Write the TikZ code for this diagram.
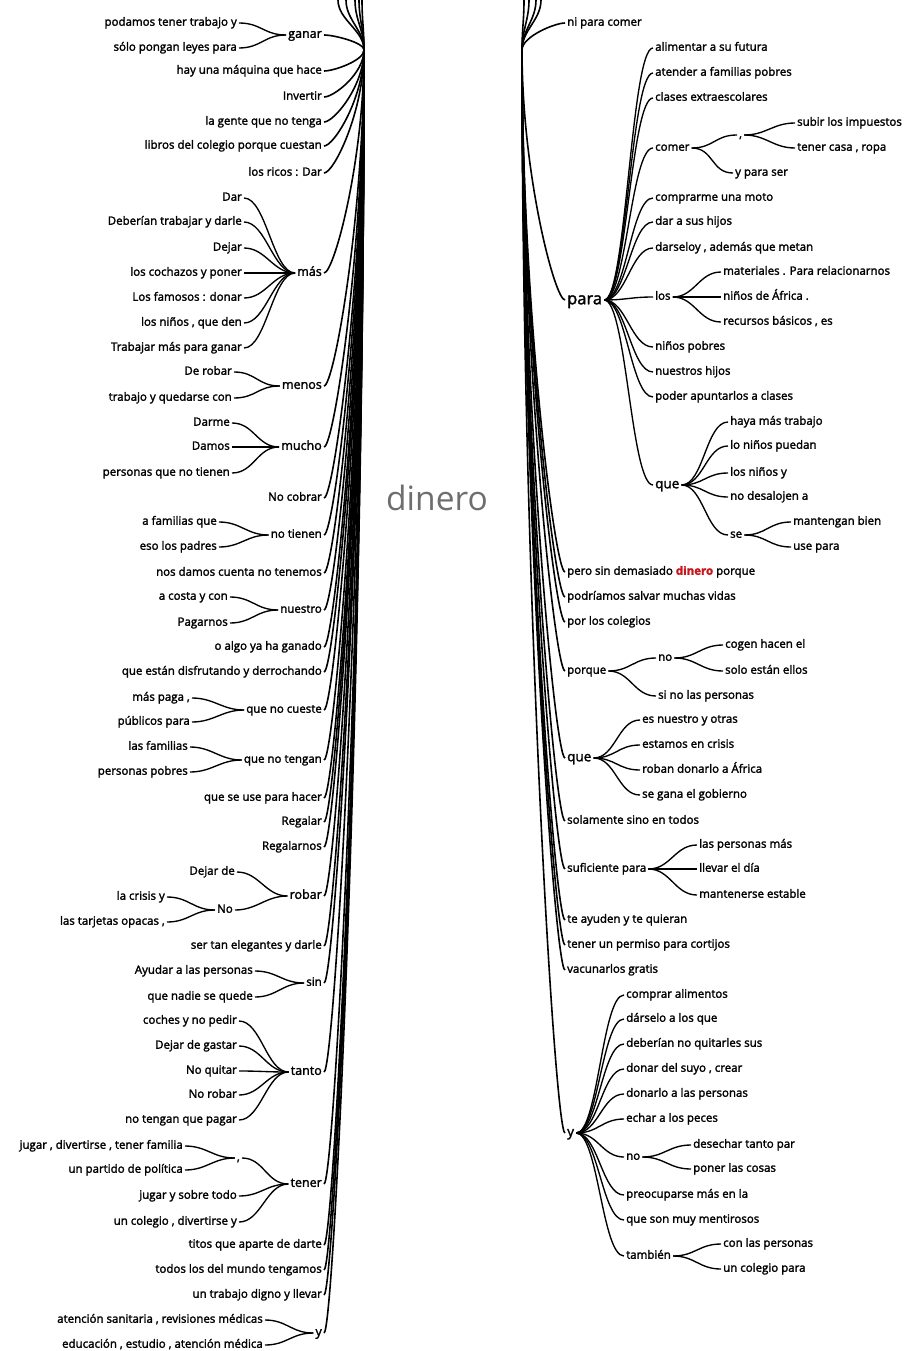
\documentclass[tikz,border=0pt]{standalone}
\usepackage{fontspec}
\setmainfont{Open Sans}
\newfontfamily\wordfont{Open Sans}[FakeBold=2]
\usetikzlibrary{calc}
\definecolor{rootgray}{HTML}{6E6E6E}
\definecolor{hitred}{HTML}{C8161D}
\tikzset{
  word/.style     = {font=\wordfont\fontsize{11.5}{13}\selectfont, inner xsep=2pt, inner ysep=0pt,
                     text height=8pt, text depth=2.5pt},
  midword/.style  = {font=\wordfont\fontsize{12.5}{14}\selectfont, text height=8.5pt, text depth=2.8pt},
  bigword/.style  = {font=\wordfont\fontsize{13.5}{15}\selectfont, text height=9.5pt, text depth=3pt},
  hugeword/.style = {font=\wordfont\fontsize{16.5}{18}\selectfont, text height=12pt, text depth=3.5pt},
  lw/.style       = {word, anchor=east},
  rw/.style       = {word, anchor=west},
  link/.style     = {line width=1.35pt, black},
  trunk/.style    = {line width=1.6pt, black},
  rootword/.style = {font=\fontsize{33.5}{36}\selectfont, text=rootgray, inner sep=0pt}
}
% trunk links from the hubs, fan links inside a branch
\newcommand{\ltrunk}[1]{\draw[trunk] (hubL) .. controls ($(hubL)!0.5!(hubL |- #1.east)$) and +(10,0) .. (#1.east);}
\newcommand{\rtrunk}[1]{\draw[trunk] (hubR) .. controls ($(hubR)!0.5!(hubR |- #1.west)$) and +(-10,0) .. (#1.west);}
\newcommand{\lfan}[2]{\draw[link] (#1.west) .. controls +(-22,0) and +(22,0) .. (#2.east);}
\newcommand{\rfan}[2]{\draw[link] (#1.east) .. controls +(22,0) and +(-22,0) .. (#2.west);}

\begin{document}
\begin{tikzpicture}[x=1pt,y=-1pt]
  \useasboundingbox (0,0) rectangle (905,1351);

  \coordinate (hubL) at (364,50);
  \coordinate (hubR) at (522,50);

  \node[rootword] (root) at (437,498) {dinero};

  % left side
  \node[lw,midword] (ganar)        at (324,35)   {ganar};
  \node[lw] (maquina)              at (324,71)   {hay una máquina que hace};
  \node[lw] (invertir)             at (324,97)   {Invertir};
  \node[lw] (gente)                at (324,122)  {la gente que no tenga};
  \node[lw] (libros)               at (324,146)  {libros del colegio porque cuestan};
  \node[lw] (ricos)                at (324,173)  {los ricos : Dar};
  \node[lw,midword] (mas)          at (324,273)  {más};
  \node[lw,midword] (menos)        at (324,386)  {menos};
  \node[lw,midword] (mucho)        at (324,447)  {mucho};
  \node[lw] (nocobrar)             at (324,498)  {No cobrar};
  \node[lw] (notienen)             at (324,535)  {no tienen};
  \node[lw] (damos)                at (324,573)  {nos damos cuenta no tenemos};
  \node[lw] (nuestro)              at (324,610)  {nuestro};
  \node[lw] (algo)                 at (324,647)  {o algo ya ha ganado};
  \node[lw] (disfrutando)          at (324,672)  {que están disfrutando y derrochando};
  \node[lw] (nocueste)             at (324,710)  {que no cueste};
  \node[lw] (notengan)             at (324,760)  {que no tengan};
  \node[lw] (seuse)                at (324,798)  {que se use para hacer};
  \node[lw] (regalar)              at (324,822)  {Regalar};
  \node[lw] (regalarnos)           at (324,847)  {Regalarnos};
  \node[lw,midword] (robar)        at (324,896)  {robar};
  \node[lw] (elegantes)            at (324,946)  {ser tan elegantes y darle};
  \node[lw] (sin)                  at (324,983)  {sin};
  \node[lw,midword] (tanto)        at (324,1072) {tanto};
  \node[lw,midword] (tener)        at (324,1184) {tener};
  \node[lw] (titos)                at (324,1245) {titos que aparte de darte};
  \node[lw] (todos)                at (324,1270) {todos los del mundo tengamos};
  \node[lw] (digno)                at (324,1295) {un trabajo digno y llevar};
  \node[lw,midword] (ly)           at (324,1333) {y};

  \node[lw] (ganar-a)    at (239,23)   {podamos tener trabajo y};
  \node[lw] (ganar-b)    at (239,48)   {sólo pongan leyes para};
  \node[lw] (mas-a)      at (244,198)  {Dar};
  \node[lw] (mas-b)      at (244,222)  {Deberían trabajar y darle};
  \node[lw] (mas-c)      at (244,248)  {Dejar};
  \node[lw] (mas-d)      at (244,273)  {los cochazos y poner};
  \node[lw] (mas-e)      at (244,298)  {Los famosos : donar};
  \node[lw] (mas-f)      at (244,323)  {los niños , que den};
  \node[lw] (mas-g)      at (244,348)  {Trabajar más para ganar};
  \node[lw] (menos-a)    at (234,372)  {De robar};
  \node[lw] (menos-b)    at (234,398)  {trabajo y quedarse con};
  \node[lw] (mucho-a)    at (232,423)  {Darme};
  \node[lw] (mucho-b)    at (232,447)  {Damos};
  \node[lw] (mucho-c)    at (232,473)  {personas que no tienen};
  \node[lw] (notienen-a) at (219,522)  {a familias que};
  \node[lw] (notienen-b) at (219,547)  {eso los padres};
  \node[lw] (nuestro-a)  at (230,597)  {a costa y con};
  \node[lw] (nuestro-b)  at (230,623)  {Pagarnos};
  \node[lw] (nocueste-a) at (192,698)  {más paga ,};
  \node[lw] (nocueste-b) at (192,722)  {públicos para};
  \node[lw] (notengan-a) at (190,747)  {las familias};
  \node[lw] (notengan-b) at (190,772)  {personas pobres};
  \node[lw] (robar-a)    at (237,872)  {Dejar de};
  \node[lw] (robar-no)   at (235,910)  {No};
  \node[lw] (robar-no-a) at (167,897)  {la crisis y};
  \node[lw] (robar-no-b) at (167,922)  {las tarjetas opacas ,};
  \node[lw] (sin-a)      at (255,971)  {Ayudar a las personas};
  \node[lw] (sin-b)      at (255,997)  {que nadie se quede};
  \node[lw] (tanto-a)    at (239,1021) {coches y no pedir};
  \node[lw] (tanto-b)    at (239,1046) {Dejar de gastar};
  \node[lw] (tanto-c)    at (239,1071) {No quitar};
  \node[lw] (tanto-d)    at (239,1095) {No robar};
  \node[lw] (tanto-e)    at (239,1120) {no tengan que pagar};
  \node[lw] (tener-coma) at (242,1158) {,};
  \node[lw] (tener-coma-a) at (185,1146) {jugar , divertirse , tener familia};
  \node[lw] (tener-coma-b) at (185,1170) {un partido de política};
  \node[lw] (tener-c)    at (239,1196) {jugar y sobre todo};
  \node[lw] (tener-d)    at (239,1222) {un colegio , divertirse y};
  \node[lw] (ly-a)       at (265,1320) {atención sanitaria , revisiones médicas};
  \node[lw] (ly-b)       at (265,1345) {educación , estudio , atención médica};

  % right side
  \node[rw] (nipara)              at (565,23)   {ni para comer};
  \node[rw,hugeword] (para)       at (565,300)  {para};
  \node[rw] (pero)                at (565,572)  {pero sin demasiado \textcolor{hitred}{\textbf{dinero}} porque};
  \node[rw] (podriamos)           at (565,597)  {podríamos salvar muchas vidas};
  \node[rw] (porlos)              at (565,622)  {por los colegios};
  \node[rw] (porque)              at (565,671)  {porque};
  \node[rw,bigword] (rque)        at (565,758)  {que};
  \node[rw] (solamente)           at (565,821)  {solamente sino en todos};
  \node[rw] (suficiente)          at (565,869)  {suficiente para};
  \node[rw] (ayuden)              at (565,920)  {te ayuden y te quieran};
  \node[rw] (permiso)             at (565,945)  {tener un permiso para cortijos};
  \node[rw] (vacunarlos)          at (565,970)  {vacunarlos gratis};
  \node[rw,bigword] (ry)          at (565,1133) {y};

  \node[rw] (para-a)     at (653,48)   {alimentar a su futura};
  \node[rw] (para-b)     at (653,73)   {atender a familias pobres};
  \node[rw] (para-c)     at (653,98)   {clases extraescolares};
  \node[rw] (comer)      at (653,148)  {comer};
  \node[rw] (comer-coma) at (737,135)  {,};
  \node[rw] (comer-coma-a) at (795,123) {subir los impuestos};
  \node[rw] (comer-coma-b) at (795,148) {tener casa , ropa};
  \node[rw] (comer-c)    at (733,173)  {y para ser};
  \node[rw] (comprarme)  at (653,198)  {comprarme una moto};
  \node[rw] (darhijos)   at (653,222)  {dar a sus hijos};
  \node[rw] (darseloy)   at (653,248)  {darseloy , además que metan};
  \node[rw] (los)        at (653,297)  {los};
  \node[rw] (los-a)      at (721,272)  {materiales . Para relacionarnos};
  \node[rw] (los-b)      at (721,297)  {niños de África .};
  \node[rw] (los-c)      at (721,322)  {recursos básicos , es};
  \node[rw] (ninos)      at (653,347)  {niños pobres};
  \node[rw] (nuestros)   at (653,372)  {nuestros hijos};
  \node[rw] (poder)      at (653,397)  {poder apuntarlos a clases};
  \node[rw,bigword] (pque) at (653,485) {que};
  \node[rw] (pque-a)     at (728,422)  {haya más trabajo};
  \node[rw] (pque-b)     at (728,446)  {lo niños puedan};
  \node[rw] (pque-c)     at (728,473)  {los niños y};
  \node[rw] (pque-d)     at (728,497)  {no desalojen a};
  \node[rw] (se)         at (728,535)  {se};
  \node[rw] (se-a)       at (791,522)  {mantengan bien};
  \node[rw] (se-b)       at (791,547)  {use para};

  \node[rw] (porque-no)   at (656,658) {no};
  \node[rw] (porque-no-a) at (723,645) {cogen hacen el};
  \node[rw] (porque-no-b) at (723,671) {solo están ellos};
  \node[rw] (porque-b)    at (656,696) {si no las personas};
  \node[rw] (rque-a)     at (640,720)  {es nuestro y otras};
  \node[rw] (rque-b)     at (640,745)  {estamos en crisis};
  \node[rw] (rque-c)     at (640,770)  {roban donarlo a África};
  \node[rw] (rque-d)     at (640,795)  {se gana el gobierno};
  \node[rw] (suficiente-a) at (697,845) {las personas más};
  \node[rw] (suficiente-b) at (697,869) {llevar el día};
  \node[rw] (suficiente-c) at (697,895) {mantenerse estable};

  \node[rw] (ry-a)       at (624,995)  {comprar alimentos};
  \node[rw] (ry-b)       at (624,1019) {dárselo a los que};
  \node[rw] (ry-c)       at (624,1044) {deberían no quitarles sus};
  \node[rw] (ry-d)       at (624,1069) {donar del suyo , crear};
  \node[rw] (ry-e)       at (624,1094) {donarlo a las personas};
  \node[rw] (ry-f)       at (624,1119) {echar a los peces};
  \node[rw] (ry-no)      at (624,1157) {no};
  \node[rw] (ry-no-a)    at (691,1145) {desechar tanto par};
  \node[rw] (ry-no-b)    at (691,1169) {poner las cosas};
  \node[rw] (ry-g)       at (624,1195) {preocuparse más en la};
  \node[rw] (ry-h)       at (624,1220) {que son muy mentirosos};
  \node[rw] (tambien)    at (624,1256) {también};
  \node[rw] (tambien-a)  at (721,1244) {con las personas};
  \node[rw] (tambien-b)  at (721,1269) {un colegio para};

  % cut-off links above the top edge
  \foreach \i/\x in {a/338,b/346,c/355,d/359,e/362}
    \coordinate (topL-\i) at (\x,0);
  \foreach \i/\x in {a/524,b/529,c/536,d/541}
    \coordinate (topR-\i) at (\x,0);
  \foreach \i in {a,b,c,d,e}
    \draw[trunk] (hubL) .. controls +(0,-20) and +(0,20) .. (topL-\i);
  \foreach \i in {a,b,c,d}
    \draw[trunk] (hubR) .. controls +(0,-20) and +(0,20) .. (topR-\i);

  % trunks
  \foreach \n in {ganar,maquina,invertir,gente,libros,ricos,mas,menos,mucho,nocobrar,
    notienen,damos,nuestro,algo,disfrutando,nocueste,notengan,seuse,regalar,regalarnos,
    robar,elegantes,sin,tanto,tener,titos,todos,digno,ly}
    {\ltrunk{\n}}
  \foreach \n in {nipara,para,pero,podriamos,porlos,porque,rque,solamente,suficiente,
    ayuden,permiso,vacunarlos,ry}
    {\rtrunk{\n}}

  % branches
  \foreach \c in {ganar-a,ganar-b} {\lfan{ganar}{\c}}
  \foreach \c in {mas-a,mas-b,mas-c,mas-d,mas-e,mas-f,mas-g} {\lfan{mas}{\c}}
  \foreach \c in {menos-a,menos-b} {\lfan{menos}{\c}}
  \foreach \c in {mucho-a,mucho-b,mucho-c} {\lfan{mucho}{\c}}
  \foreach \c in {notienen-a,notienen-b} {\lfan{notienen}{\c}}
  \foreach \c in {nuestro-a,nuestro-b} {\lfan{nuestro}{\c}}
  \foreach \c in {nocueste-a,nocueste-b} {\lfan{nocueste}{\c}}
  \foreach \c in {notengan-a,notengan-b} {\lfan{notengan}{\c}}
  \foreach \c in {robar-a,robar-no} {\lfan{robar}{\c}}
  \foreach \c in {robar-no-a,robar-no-b} {\lfan{robar-no}{\c}}
  \foreach \c in {sin-a,sin-b} {\lfan{sin}{\c}}
  \foreach \c in {tanto-a,tanto-b,tanto-c,tanto-d,tanto-e} {\lfan{tanto}{\c}}
  \foreach \c in {tener-coma,tener-c,tener-d} {\lfan{tener}{\c}}
  \foreach \c in {tener-coma-a,tener-coma-b} {\lfan{tener-coma}{\c}}
  \foreach \c in {ly-a,ly-b} {\lfan{ly}{\c}}

  \foreach \c in {para-a,para-b,para-c,comer,comprarme,darhijos,darseloy,los,ninos,
    nuestros,poder,pque} {\rfan{para}{\c}}
  \foreach \c in {comer-coma,comer-c} {\rfan{comer}{\c}}
  \foreach \c in {comer-coma-a,comer-coma-b} {\rfan{comer-coma}{\c}}
  \foreach \c in {los-a,los-b,los-c} {\rfan{los}{\c}}
  \foreach \c in {pque-a,pque-b,pque-c,pque-d,se} {\rfan{pque}{\c}}
  \foreach \c in {se-a,se-b} {\rfan{se}{\c}}
  \foreach \c in {porque-no,porque-b} {\rfan{porque}{\c}}
  \foreach \c in {porque-no-a,porque-no-b} {\rfan{porque-no}{\c}}
  \foreach \c in {rque-a,rque-b,rque-c,rque-d} {\rfan{rque}{\c}}
  \foreach \c in {suficiente-a,suficiente-b,suficiente-c} {\rfan{suficiente}{\c}}
  \foreach \c in {ry-a,ry-b,ry-c,ry-d,ry-e,ry-f,ry-no,ry-g,ry-h,tambien} {\rfan{ry}{\c}}
  \foreach \c in {ry-no-a,ry-no-b} {\rfan{ry-no}{\c}}
  \foreach \c in {tambien-a,tambien-b} {\rfan{tambien}{\c}}
\end{tikzpicture}
\end{document}
